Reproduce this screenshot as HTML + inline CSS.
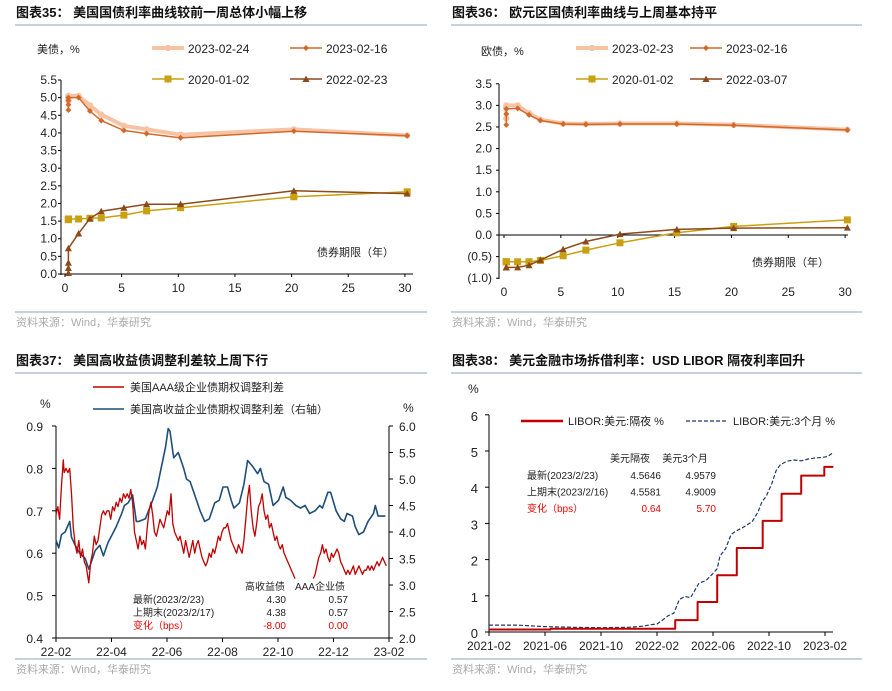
<!DOCTYPE html>
<html><head><meta charset="utf-8"><style>
html,body{margin:0;padding:0;background:#fff;}
svg{display:block;font-family:"Liberation Sans","Noto Sans CJK SC",sans-serif;}
</style></head><body>
<svg id="s" width="892" height="691" viewBox="0 0 892 691" xmlns="http://www.w3.org/2000/svg"></svg>
<script>
// ===== Chart 35 data (US Treasury curve) =====
const usTenor = [0.3,0.3,0.3,0.3,1.2,2.2,3.2,5.2,7.2,10.2,20.2,30.2];
const us0224 = [4.9,4.95,5.0,5.05,5.05,4.78,4.52,4.2,4.1,3.95,4.1,3.93];
const us0216 = [4.65,4.8,4.92,5.0,5.0,4.62,4.35,4.07,3.98,3.86,4.05,3.92];
const us2020 = [1.54,1.55,1.56,1.56,1.56,1.58,1.59,1.67,1.79,1.88,2.19,2.33];
const us2022 = [0.03,0.17,0.32,0.73,1.15,1.57,1.78,1.88,1.98,1.98,2.36,2.28];
const usYTicks = ["0.0","0.5","1.0","1.5","2.0","2.5","3.0","3.5","4.0","4.5","5.0","5.5"];
const xTicks30 = [0,5,10,15,20,25,30];
// ===== Chart 36 data (Euro area curve) =====
const euTenor = [0.2,0.2,0.2,1.2,2.2,3.2,5.2,7.2,10.2,15.2,20.2,30.2];
const eu0223 = [2.7,2.95,3.0,3.0,2.82,2.67,2.58,2.57,2.58,2.58,2.55,2.44];
const eu0216 = [2.55,2.8,2.92,2.93,2.78,2.65,2.57,2.56,2.57,2.57,2.54,2.43];
const eu2020 = [-0.62,-0.62,-0.62,-0.62,-0.62,-0.59,-0.48,-0.35,-0.18,0.05,0.2,0.35];
const eu2022 = [-0.75,-0.75,-0.75,-0.75,-0.7,-0.58,-0.33,-0.15,0.02,0.13,0.16,0.17];
const euYTicks = [-1,-0.5,0,0.5,1,1.5,2,2.5,3,3.5];
// ===== Chart 37 data (spreads, day offset from 2022-02-01) =====
const redDays = [0,2,4,6,8,9,11,13,15,17,19,21,23,25,27,29,31,33,36,38,40,42,44,46,48,50,52,54,56,58,60,62,64,66,68,70,72,74,76,78,80,82,84,86,88,90,92,94,96,98,100,102,104,106,108,110,112,114,116,118,120,122,124,126,128,130,132,134,136,138,140,142,144,146,148,150,152,154,156,158,160,162,164,166,168,170,172,174,176,178,180,182,184,186,188,190,192,194,196,198,200,202,204,206,208,210,212,214,216,218,220,222,224,226,228,230,232,234,236,238,240,242,244,246,248,250,252,254,256,258,260,262,272,282,284,286,288,290,292,294,296,298,300,302,304,306,308,310,312,314,316,318,320,322,324,326,328,330,332,334,336,338,340,342,344,346,348,350,352,354,356,358,360,362];
const redVals = [.69,.71,.68,.76,.82,.79,.80,.79,.80,.74,.66,.62,.60,.63,.59,.61,.58,.57,.53,.58,.60,.64,.62,.63,.66,.69,.70,.69,.70,.70,.68,.71,.70,.72,.71,.73,.72,.74,.73,.74,.73,.75,.72,.65,.63,.61,.64,.62,.63,.61,.66,.70,.72,.69,.65,.64,.66,.68,.67,.66,.68,.70,.69,.74,.67,.65,.64,.63,.64,.62,.60,.63,.61,.59,.61,.63,.60,.62,.63,.61,.59,.58,.57,.58,.60,.59,.61,.60,.62,.64,.63,.65,.66,.66,.67,.65,.63,.62,.61,.60,.62,.61,.60,.63,.68,.73,.76,.70,.66,.64,.67,.71,.72,.74,.70,.68,.69,.66,.67,.65,.63,.64,.62,.61,.62,.60,.59,.58,.57,.56,.55,.54,null,.54,.55,.57,.59,.60,.62,.60,.61,.59,.58,.60,.59,.60,.61,.60,.58,.57,.56,.55,.56,.55,.56,.57,.55,.56,.57,.56,.55,.56,.56,.57,.56,.57,.56,.57,.58,.57,.58,.59,.58,.57];
const blueDays = [0,3,6,10,15,17,21,26,32,36,39,43,48,52,57,63,66,72,75,79,84,88,91,98,106,111,114,120,123,125,129,134,140,143,147,152,158,163,168,174,179,183,188,192,195,201,206,210,215,221,224,228,233,238,244,249,252,257,263,268,273,278,284,289,292,298,301,307,312,316,319,325,328,332,337,342,348,350,353,361];
const blueVals = [3.85,3.7,3.95,4.0,4.2,3.9,3.75,3.6,3.5,3.3,3.45,3.65,3.75,3.55,3.8,4.0,4.1,4.35,4.5,4.55,4.7,4.2,4.2,4.25,4.6,4.85,5.1,5.6,5.95,5.9,5.4,5.5,5.2,5.0,4.95,4.7,4.4,4.2,4.25,4.55,4.6,4.85,4.85,4.6,4.45,4.55,4.9,5.35,5.25,5.1,5.2,4.95,4.9,4.5,4.6,4.85,4.65,4.6,4.5,4.45,4.5,4.35,4.4,4.5,4.45,4.75,4.75,4.4,4.25,4.2,4.35,4.3,4.1,3.95,4.0,4.2,4.35,4.5,4.3,4.3];
const c37LeftTicks = ["0.4","0.5","0.6","0.7","0.8","0.9"];
const c37RightTicks = ["2.0","2.5","3.0","3.5","4.0","4.5","5.0","5.5","6.0"];
const c37XTicks = ["22-02","22-04","22-06","22-08","22-10","22-12","23-02"];
// ===== Chart 38 data (LIBOR, month offset from 2021-02) =====
const onStepMonths = [0,4.4,13.3,14.9,16.3,17.7,19.55,20.9,22.3,23.95];
const onStepVals = [0.07,0.09,0.33,0.83,1.57,2.32,3.07,3.82,4.32,4.56];
const onEndMonth = 24.6;
const m3Months = [0,2,4,6,8,10,11,11.5,12,12.3,12.8,13.2,13.6,14.0,14.4,15.0,15.5,16.0,16.3,16.5,16.9,17.3,17.7,18.2,18.8,19.2,19.5,19.8,20.2,20.5,20.8,21.3,21.8,22.3,22.8,23.3,23.8,24.2,24.6];
const m3Vals = [.19,.19,.15,.13,.12,.13,.16,.2,.22,.3,.45,.52,.9,.98,.95,1.35,1.42,1.62,1.75,2.1,2.3,2.7,2.8,2.9,3.05,3.3,3.6,3.75,4.1,4.45,4.62,4.72,4.75,4.73,4.78,4.81,4.82,4.85,4.96];
const c38YTicks = [0,1,2,3,4,5,6];
const c38XTicks = ["2021-02","2021-06","2021-10","2022-02","2022-06","2022-10","2023-02"];

const NS="http://www.w3.org/2000/svg", S=document.getElementById('s');
function mk(tag, attrs, name){
  const el=document.createElementNS(NS,tag);
  for(const k in attrs) el.setAttribute(k,attrs[k]);
  
  
  S.appendChild(el); return el;
}
function ln(x1,y1,x2,y2,c,w,name,dash){const a={x1,y1,x2,y2,stroke:c,'stroke-width':w};if(dash)a['stroke-dasharray']=dash;return mk('line',a,name);}
function tx(x,y,s,o,name){o=o||{};const a={x,y,'font-size':o.fs||12,fill:o.fill||'#222','text-anchor':o.anchor||'start'};if(o.fw)a['font-weight']=o.fw;if(o.ff)a['font-family']=o.ff;const t=mk('text',a,name);t.textContent=s;return t;}
function pl(pts,c,w,name,dash){const a={points:pts.map(p=>p[0].toFixed(1)+','+p[1].toFixed(1)).join(' '),fill:'none',stroke:c,'stroke-width':w,'stroke-linejoin':'round'};if(dash)a['stroke-dasharray']=dash;return mk('polyline',a,name);}
function mark(t,x,y,c,name){
  if(t==='circle') return mk('circle',{cx:x,cy:y,r:3.2,fill:c},name);
  if(t==='diamond') return mk('polygon',{points:`${x},${y-3} ${x+3},${y} ${x},${y+3} ${x-3},${y}`,fill:c},name);
  if(t==='square') return mk('rect',{x:x-3.5,y:y-3.5,width:7,height:7,fill:c},name);
  return mk('polygon',{points:`${x},${y-3.5} ${x+3.5},${y+3} ${x-3.5},${y+3}`,fill:c},name);
}
const CJK='"Liberation Sans","Noto Sans CJK SC",sans-serif';
function header(x,y,x2,t){tx(x,y,t,{fs:13,fw:'bold',fill:'#111',ff:CJK},'chart-title');ln(x-1,25+(y-17),x2,25+(y-17),'#8fa3b8',1,'title-rule');}
function footer(x,y,x2){ln(x-1,y,x2,y,'#8fa3b8',1,'footer-rule');tx(x,y+14,'资料来源：Wind，华泰研究',{fs:11,fill:'#aaa',ff:CJK},'source-note');}

const C_LIGHT='#f6c3a5', C_ORG='#d2692a', C_GOLD='#c9a011', C_BRN='#8b4a1c';

// ---------- Chart 35 ----------
header(16,17,427,'图表35：  美国国债利率曲线较前一周总体小幅上移');
{
  const X=v=>65+v*11.33, Y=v=>274-v*35.27;
  ln(61,80,61,275,'#000',1,'y-axis');ln(61,274,413,274,'#000',1,'x-axis');
  usYTicks.forEach(t=>{const y=Y(+t);ln(58,y,61,y,'#000',1,'y-tick');tx(57,y+4,t,{anchor:'end',fs:12},'y-tick-label');});
  xTicks30.forEach(t=>{ln(X(t),274,X(t),277,'#000',1,'x-tick');tx(X(t),292,String(t),{anchor:'middle',fs:12},'x-tick-label');});
  tx(37,53,'美债，%',{fs:11,ff:CJK},'y-axis-title');
  tx(317,256,'债券期限（年）',{fs:11,ff:CJK},'x-axis-title');
  const S1=[[us0224,C_LIGHT,4,'circle','series-2023-02-24'],[us0216,C_ORG,1.5,'diamond','series-2023-02-16'],[us2020,C_GOLD,1.5,'square','series-2020-01-02'],[us2022,C_BRN,1.5,'triangle','series-2022-02-23']];
  S1.forEach(([d,c,w,m,n])=>{pl(d.map((v,i)=>[X(usTenor[i]),Y(v)]),c,w,n);d.forEach((v,i)=>mark(m,X(usTenor[i]),Y(v),c,'point'));});
  const L=[[152,48,'2023-02-24',C_LIGHT,4,'circle'],[290,48,'2023-02-16',C_ORG,1.5,'diamond'],[152,79,'2020-01-02',C_GOLD,1.5,'square'],[290,79,'2022-02-23',C_BRN,1.5,'triangle']];
  L.forEach(([x,y,t,c,w,m])=>{ln(x,y,x+32,y,c,w,'legend-line');mark(m,x+16,y,c,'legend-marker');tx(x+36,y+5,t,{fs:12},'legend-entry');});
  footer(16,312,427);
}
// ---------- Chart 36 ----------
header(452,17,862,'图表36：  欧元区国债利率曲线与上周基本持平');
{
  const X=v=>504+v*11.37, Y=v=>235-v*43.2;
  ln(499,84,499,279,'#000',1,'y-axis');ln(499,235,848,235,'#000',1,'x-axis');
  euYTicks.forEach(t=>{const y=Y(t);ln(496,y,499,y,'#000',1,'y-tick');const s=t<0?'('+Math.abs(t).toFixed(1)+')':t.toFixed(1);tx(492,y+4,s,{anchor:'end',fs:12},'y-tick-label');});
  xTicks30.forEach(t=>{ln(X(t),235,X(t),238,'#000',1,'x-tick');tx(X(t),296,String(t),{anchor:'middle',fs:12},'x-tick-label');});
  tx(481,55,'欧债，%',{fs:11,ff:CJK},'y-axis-title');
  tx(752,266,'债券期限（年）',{fs:11,ff:CJK},'x-axis-title');
  const S2=[[eu0223,C_LIGHT,4,'circle','series-2023-02-23'],[eu0216,C_ORG,1.5,'diamond','series-2023-02-16'],[eu2020,C_GOLD,1.5,'square','series-2020-01-02'],[eu2022,C_BRN,1.5,'triangle','series-2022-03-07']];
  S2.forEach(([d,c,w,m,n])=>{pl(d.map((v,i)=>[X(euTenor[i]),Y(v)]),c,w,n);d.forEach((v,i)=>mark(m,X(euTenor[i]),Y(v),c,'point'));});
  const L=[[576,48,'2023-02-23',C_LIGHT,4,'circle'],[690,48,'2023-02-16',C_ORG,1.5,'diamond'],[576,79,'2020-01-02',C_GOLD,1.5,'square'],[690,79,'2022-03-07',C_BRN,1.5,'triangle']];
  L.forEach(([x,y,t,c,w,m])=>{ln(x,y,x+32,y,c,w,'legend-line');mark(m,x+16,y,c,'legend-marker');tx(x+36,y+5,t,{fs:12},'legend-entry');});
  footer(452,312,862);
}
// ---------- Chart 37 ----------
header(16,365,427,'图表37：  美国高收益债调整利差较上周下行');
{
  const X=d=>56+d*333/365, YL=v=>638-(v-0.4)*424, YR=v=>638-(v-2)*53;
  ln(56,426,56,638,'#000',1,'left-y-axis');ln(389,426,389,638,'#000',1,'right-y-axis');ln(56,638,389,638,'#000',1,'x-axis');
  c37LeftTicks.forEach(t=>{const y=YL(+t);ln(52,y,56,y,'#000',1,'y-tick');tx(43,y+5,t,{anchor:'end',fs:12},'left-tick-label');});
  c37RightTicks.forEach(t=>{const y=YR(+t);ln(389,y,393,y,'#000',1,'y-tick');tx(399,y+5,t,{fs:12},'right-tick-label');});
  c37XTicks.forEach((t,i)=>{const x=56+i*333/6;ln(x,638,x,642,'#000',1,'x-tick');tx(x,656,t,{anchor:'middle',fs:12},'x-tick-label');});
  tx(40,408,'%',{fs:12},'left-axis-unit');tx(403,412,'%',{fs:12},'right-axis-unit');
  // blue
  pl(blueDays.map((d,i)=>[X(d),YR(blueVals[i])]),'#1f4e79',1.6,'high-yield-oas-line');
  // red with gap
  let seg=[];const segs=[];redDays.forEach((d,i)=>{if(redVals[i]==null){segs.push(seg);seg=[];}else seg.push([X(d),YL(redVals[i])]);});segs.push(seg);
  segs.forEach(sg=>pl(sg,'#c00000',1.3,'aaa-oas-line'));
  ln(93,387,124,387,'#c00000',1.5,'legend-line');tx(130,391,'美国AAA级企业债期权调整利差',{fs:11,ff:CJK},'legend-entry');
  ln(93,409,124,409,'#1f4e79',1.5,'legend-line');tx(130,413,'美国高收益企业债期权调整利差（右轴）',{fs:11,ff:CJK},'legend-entry');
  const F='"Liberation Sans","Noto Sans CJK SC",sans-serif';
  tx(245,590,'高收益债',{fs:10,ff:F},'table-header');tx(295,590,'AAA企业债',{fs:10,ff:F},'table-header');
  const rows=[['最新(2023/2/23)','4.30','0.57','#222'],['上期末(2023/2/17)','4.38','0.57','#222'],['变化（bps）','-8.00','0.00','#e00']];
  rows.forEach((r,i)=>{const y=603+i*13;tx(133,y,r[0],{fs:10,fill:r[3],ff:F},'table-row-label');tx(286,y,r[1],{fs:10,fill:r[3],anchor:'end'},'table-value');tx(348,y,r[2],{fs:10,fill:r[3],anchor:'end'},'table-value');});
  footer(16,659,427);
}
// ---------- Chart 38 ----------
header(452,365,862,'图表38：  美元金融市场拆借利率：USD LIBOR 隔夜利率回升');
{
  const X=m=>489+m*14, Y=v=>632-v*36.2;
  ln(489,415,489,633,'#000',1,'y-axis');ln(489,632,833,632,'#000',1,'x-axis');
  c38YTicks.forEach(t=>{const y=Y(t);ln(485,y,489,y,'#000',1,'y-tick');tx(478,y+6,String(t),{anchor:'end',fs:13},'y-tick-label');});
  c38XTicks.forEach((t,i)=>{const x=X(i*4);ln(x,632,x,636,'#000',1,'x-tick');tx(x,650,t,{anchor:'middle',fs:12},'x-tick-label');});
  tx(468,393,'%',{fs:12},'y-axis-unit');
  const pts=[];onStepMonths.forEach((m,i)=>{if(i>0)pts.push([X(m),Y(onStepVals[i-1])]);pts.push([X(m),Y(onStepVals[i])]);});pts.push([X(onEndMonth),Y(onStepVals[onStepVals.length-1])]);
  pl(m3Months.map((m,i)=>[X(m),Y(m3Vals[i])]),'#1f3864',1.2,'libor-3m-line','4,2');
  pl(pts,'#c00000',2,'libor-overnight-line');
  ln(521,421,563,421,'#c00000',2.5,'legend-line');tx(568,425,'LIBOR:美元:隔夜 %',{fs:11,ff:CJK},'legend-entry');
  ln(686,421,728,421,'#1f3864',1.2,'legend-line','4,2');tx(733,425,'LIBOR:美元:3个月 %',{fs:11,ff:CJK},'legend-entry');
  tx(630,462,'美元隔夜',{fs:10,anchor:'middle',ff:CJK},'table-header');tx(685,462,'美元3个月',{fs:10,anchor:'middle',ff:CJK},'table-header');
  const rows=[['最新(2023/2/23)','4.5646','4.9579','#222'],['上期末(2023/2/16)','4.5581','4.9009','#222'],['变化（bps）','0.64','5.70','#e00']];
  rows.forEach((r,i)=>{const y=479+i*16.5;tx(527,y,r[0],{fs:10,fill:r[3],ff:CJK},'table-row-label');tx(661,y,r[1],{fs:10,fill:r[3],anchor:'end'},'table-value');tx(716,y,r[2],{fs:10,fill:r[3],anchor:'end'},'table-value');});
  footer(452,659,862);
}
</script>
</body></html>
